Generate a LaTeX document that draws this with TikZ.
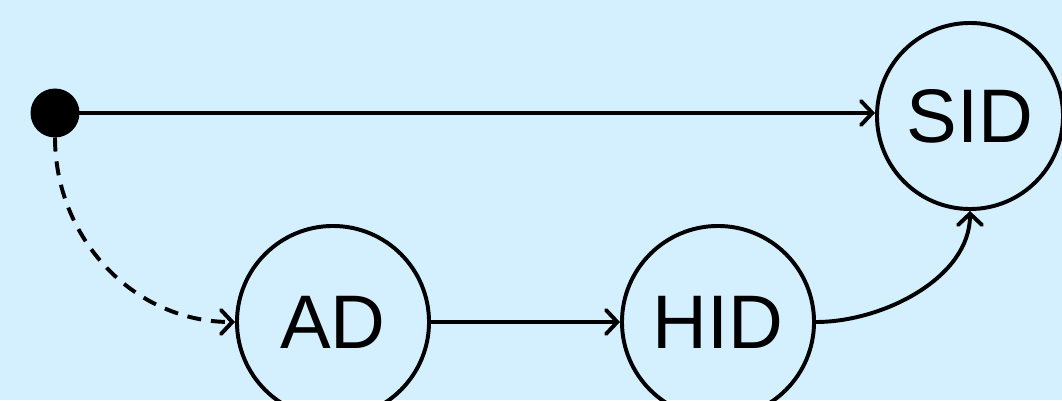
\documentclass[tikz,border=0pt]{standalone}
\usepackage{fontspec}
\setmainfont{Liberation Sans}
\usetikzlibrary{arrows.meta}
\definecolor{bgblue}{RGB}{212,240,255}
\begin{document}
\begin{tikzpicture}[x=0.025cm,y=-0.025cm,
	state/.style={circle,draw,line width=2.8pt,inner sep=0pt,minimum size=4.8cm,font=\fontsize{54}{60}\selectfont},
	trans/.style={line width=2.8pt,-{Straight Barb[length=8pt,width=17pt,line cap=round]}}]
			%Background
			\fill[bgblue] (0,0) rectangle (1062,400);
			\useasboundingbox (0,0) rectangle (1062,400);
			%Initial point
			\coordinate (init) at (55,113);
			\fill (init) circle (24.5);
			%States
			\node [state,minimum size=4.65cm] (sid) at (970,116) {SID};
			\node [state] (ad) at (333,322) {AD};
			\node [state] (hid) at (718,322) {HID};
			%Transitions
			\draw [trans] (init) -- (init -| sid.west);
			\draw [trans,dash pattern=on 10pt off 7pt] ([yshift=-24.5*0.025cm]init) to[out=-90,in=180] (ad.west);
			\draw [trans] (ad) -- (hid);
			\draw [trans] (hid.east) to[out=0,in=-90,looseness=0.9] (sid.south);
\end{tikzpicture}
\end{document}
